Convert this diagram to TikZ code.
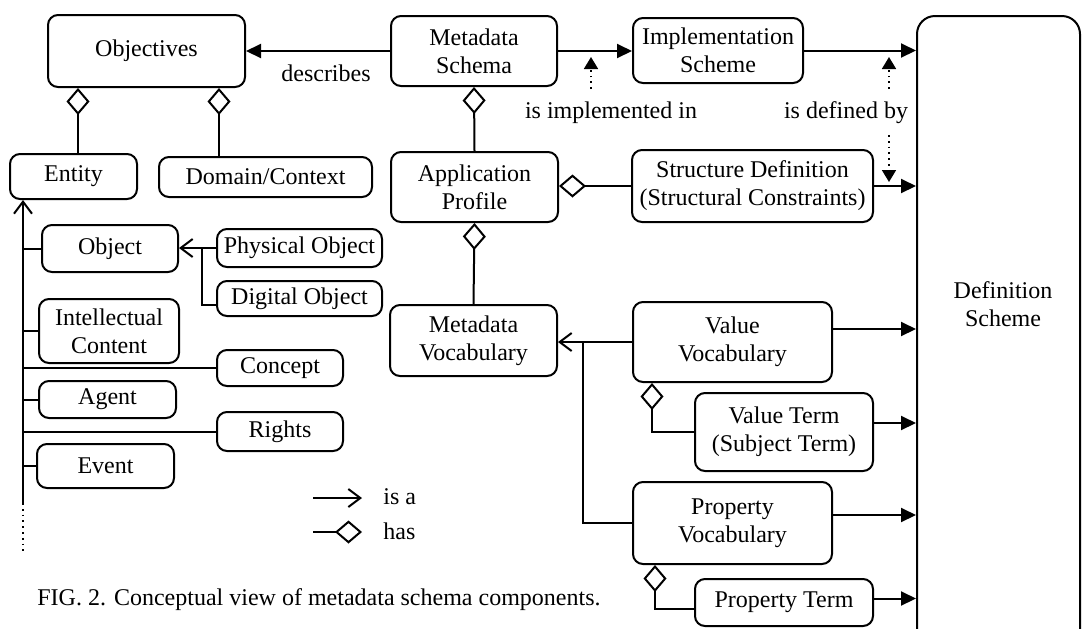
\documentclass[tikz,border=0pt]{standalone}
\usepackage{fontspec}
\setmainfont{Liberation Serif}
\usepackage{tikz}
\usetikzlibrary{positioning, calc, arrows.meta}

\tikzset{
  box/.style={draw, rounded corners=5pt, line width=1pt, align=center, inner sep=0pt},
  bigbox/.style={draw, rounded corners=9pt, line width=1pt, inner sep=0pt},
  lbl/.style={align=center, inner sep=0pt},
  link/.style={line width=1pt},
  rel/.style={link, -{Triangle[length=7.5pt, width=7pt]}},
  isa/.style={link, -{Straight Barb[length=6pt, width=9pt]}},
  has/.style={link, -{Diamond[open, length=13.5pt, width=11.5pt]}},
  hint/.style={line width=0.9pt, dotted, -{Triangle[length=6pt, width=7pt]}}
}

\begin{document}
\begin{tikzpicture}[x=0.5pt, y=-0.5pt, font=\fontsize{12}{14}\selectfont]
  \useasboundingbox (0,0) rectangle (1082,628);
  \clip (0,0) rectangle (1082,628);

  % Top row
  \node[box, minimum width=98.5pt, minimum height=36pt] (objectives) at (146.5,51) {Objectives};
  \node[box, minimum width=83pt, minimum height=35pt] (schema) at (474,51) {Metadata\\Schema};
  \node[box, minimum width=85pt, minimum height=32.5pt] (impl) at (718,50.5) {Implementation\\Scheme};
  \node[bigbox, minimum width=81.5pt, minimum height=319.5pt] (defs) at (998.5,335.5) {};
  \node[lbl] (defstext) at (1003,304) {Definition\\Scheme};

  % Second row
  \node[box, minimum width=63.5pt, minimum height=22.5pt] (entity) at (73.5,176.5) {Entity};
  \node[box, minimum width=106.5pt, minimum height=20pt] (domain) at (265.5,177) {Domain/Context};
  \node[box, minimum width=83.5pt, minimum height=35pt] (profile) at (474.5,187) {Application\\Profile};
  \node[box, minimum width=120.5pt, minimum height=36pt] (structdef) at (752.5,186) {Structure Definition\\(Structural Constraints)};

  % Entity types
  \node[box, minimum width=68pt, minimum height=23.5pt] (object) at (110,248.5) {Object};
  \node[box, minimum width=82.5pt, minimum height=19pt] (physobj) at (299.5,248) {Physical Object};
  \node[box, minimum width=82.5pt, minimum height=17.5pt] (digobj) at (299.5,298.5) {Digital Object};
  \node[box, minimum width=70pt, minimum height=32pt] (intcont) at (109,331) {Intellectual\\Content};
  \node[box, minimum width=63pt, minimum height=18pt] (concept) at (280,368) {Concept};
  \node[box, minimum width=68.5pt, minimum height=18.5pt] (agent) at (107.5,399.5) {Agent};
  \node[box, minimum width=63pt, minimum height=19.5pt] (rights) at (280,431.5) {Rights};
  \node[box, minimum width=68.5pt, minimum height=22pt] (event) at (105.5,466) {Event};

  % Vocabularies
  \node[box, minimum width=83.5pt, minimum height=35.5pt] (metavoc) at (473.5,340.5) {Metadata\\Vocabulary};
  \node[box, minimum width=99.5pt, minimum height=40pt] (valvoc) at (732.5,342) {Value\\Vocabulary};
  \node[box, minimum width=89pt, minimum height=39pt] (valterm) at (784,432) {Value Term\\(Subject Term)};
  \node[box, minimum width=99.5pt, minimum height=41pt] (propvoc) at (732.5,523) {Property\\Vocabulary};
  \node[box, minimum width=89pt, minimum height=23.5pt] (propterm) at (784,602.5) {Property Term};

  % Relations in the top part
  \draw[rel] (schema.west) -- (schema.west -| objectives.east);
  \node[lbl, anchor=base] (describes) at (326,81) {describes};
  \draw[rel] (schema.east) -- (schema.east -| impl.west);
  \draw[rel] (impl.east) -- (impl.east -| defs.west);
  \draw[rel] (structdef.east) -- (structdef.east -| defs.west);
  \draw[has] ([xshift=2.25pt]entity.north) -- ([xshift=2.25pt]entity.north |- objectives.south);
  \draw[has] ([xshift=-23.25pt]domain.north) -- ([xshift=-23.25pt]domain.north |- objectives.south);
  \draw[has] (profile.north) -- (schema.south);
  \draw[has] (structdef.west) -- (structdef.west -| profile.east);
  \draw[has] (metavoc.north) -- (profile.south);

  % Dotted hints
  \node[lbl] (implin) at (611,113) {is implemented in};
  \node[lbl] (definedby) at (846,113) {is defined by};
  \coordinate (implpt) at (591,52);
  \coordinate (defpt) at (889,52);
  \coordinate (sdpt) at (889,185);
  \draw[hint] ($(implpt)+(0,37)$) -- ($(implpt)+(0,5)$);
  \draw[hint] ($(defpt)+(0,37)$) -- ($(defpt)+(0,5)$);
  \draw[hint] ($(sdpt)+(0,-50)$) -- ($(sdpt)+(0,-3)$);

  % Entity tree
  \coordinate (trunk) at (23,503);
  \coordinate (trunkend) at (23,552);
  \draw[isa] (trunk) -- (trunk |- entity.south);
  \draw[line width=0.9pt, dotted] (trunk) -- (trunkend);
  \foreach \n in {object, intcont, concept, agent, rights, event}
    \draw[link] (\n.west) -- (\n.west -| trunk);
  \coordinate (objjoin) at (202,248);
  \draw[isa] (physobj.west) -- (physobj.west -| object.east);
  \draw[link] ([yshift=-3pt]digobj.west) -| (objjoin);

  % Vocabulary tree
  \coordinate (vocjoin) at (583,342);
  \draw[isa] (valvoc.west) -- (valvoc.west -| metavoc.east);
  \draw[link] (propvoc.west) -| (vocjoin);
  \draw[has] (valterm.west) -| ([xshift=10pt]valvoc.south west);
  \draw[has] ([yshift=-3.25pt]propterm.west) -| ([xshift=11.5pt]propvoc.south west);
  \draw[rel] ([yshift=6.5pt]valvoc.east) -- ([yshift=6.5pt]valvoc.east -| defs.west);
  \draw[rel] ([yshift=4.5pt]valterm.east) -- ([yshift=4.5pt]valterm.east -| defs.west);
  \draw[rel] ([yshift=4pt]propvoc.east) -- ([yshift=4pt]propvoc.east -| defs.west);
  \draw[rel] ([yshift=2pt]propterm.east) -- ([yshift=2pt]propterm.east -| defs.west);

  % Legend
  \node[lbl, anchor=west] (isatxt) at (383,497) {is a};
  \node[lbl, anchor=west] (hastxt) at (383,531) {has};
  \coordinate (isakey) at (313,498);
  \coordinate (haskey) at (313,532);
  \draw[isa] (isakey) -- ([xshift=-10.5pt]isakey -| isatxt.west);
  \draw[has] (haskey) -- ([xshift=-10.5pt]haskey -| hastxt.west);

  % Caption
  \node[lbl, anchor=west] (caption) at (37,600) {FIG. 2. Conceptual view of metadata schema components.};
\end{tikzpicture}
\end{document}
